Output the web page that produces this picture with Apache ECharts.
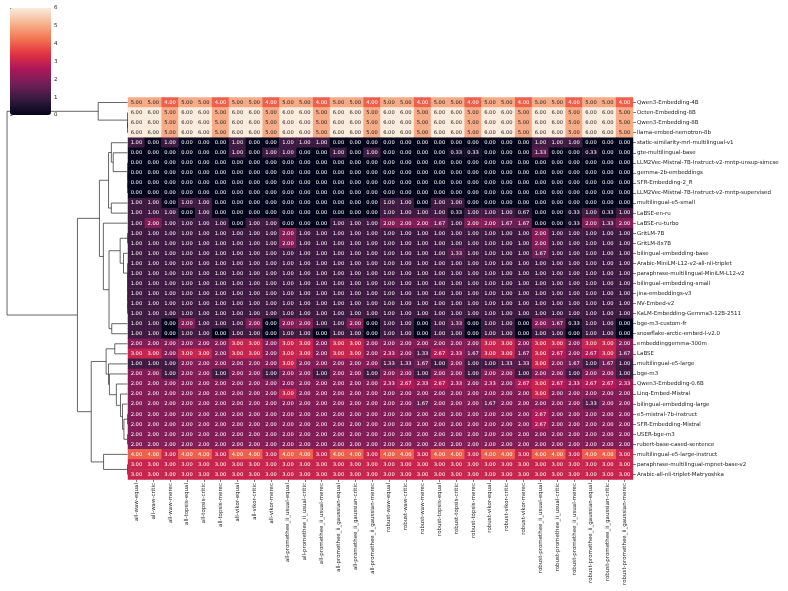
<!DOCTYPE html>
<html>
<head>
<meta charset="utf-8">
<script src="https://cdn.jsdelivr.net/npm/echarts@6/dist/echarts.min.js"></script>
<style>
html, body { margin: 0; padding: 0; background: #fff; }
#chart { width: 788px; height: 591px; }
</style>
</head>
<body>
<div id="chart"></div>
<script>
const methods = [
  'all-waw-equal', 'all-waw-critic', 'all-waw-merec',
  'all-topsis-equal', 'all-topsis-critic', 'all-topsis-merec',
  'all-vikor-equal', 'all-vikor-critic', 'all-vikor-merec',
  'all-promethee_ii_usual-equal', 'all-promethee_ii_usual-critic', 'all-promethee_ii_usual-merec',
  'all-promethee_ii_gaussian-equal', 'all-promethee_ii_gaussian-critic', 'all-promethee_ii_gaussian-merec',
  'robust-waw-equal', 'robust-waw-critic', 'robust-waw-merec',
  'robust-topsis-equal', 'robust-topsis-critic', 'robust-topsis-merec',
  'robust-vikor-equal', 'robust-vikor-critic', 'robust-vikor-merec',
  'robust-promethee_ii_usual-equal', 'robust-promethee_ii_usual-critic', 'robust-promethee_ii_usual-merec',
  'robust-promethee_ii_gaussian-equal', 'robust-promethee_ii_gaussian-critic', 'robust-promethee_ii_gaussian-merec'
]

// rows in the clustered (displayed) order
const models = [
  'Qwen3-Embedding-4B', 'Octen-Embedding-8B', 'Qwen3-Embedding-8B', 'llama-embed-nemotron-8b',
  'static-similarity-mrl-multilingual-v1', 'gte-multilingual-base',
  'LLM2Vec-Mistral-7B-Instruct-v2-mntp-unsup-simcse', 'gemma-2b-embeddings', 'SFR-Embedding-2_R',
  'LLM2Vec-Mistral-7B-Instruct-v2-mntp-supervised', 'multilingual-e5-small', 'LaBSE-en-ru', 'LaBSE-ru-turbo',
  'GritLM-7B', 'GritLM-8x7B', 'bilingual-embedding-base', 'Arabic-MiniLM-L12-v2-all-nli-triplet',
  'paraphrase-multilingual-MiniLM-L12-v2', 'bilingual-embedding-small', 'jina-embeddings-v3', 'NV-Embed-v2',
  'KaLM-Embedding-Gemma3-12B-2511', 'bge-m3-custom-fr', 'snowflake-arctic-embed-l-v2.0', 'embeddinggemma-300m',
  'LaBSE', 'multilingual-e5-large', 'bge-m3', 'Qwen3-Embedding-0.6B', 'Linq-Embed-Mistral',
  'bilingual-embedding-large', 'e5-mistral-7b-instruct', 'SFR-Embedding-Mistral', 'USER-bge-m3',
  'rubert-base-cased-sentence', 'multilingual-e5-large-instruct', 'paraphrase-multilingual-mpnet-base-v2',
  'Arabic-all-nli-triplet-Matryoshka'
]

const scores = [
  [5,5,4,5,5,4,5,5,4,5,5,4,5,5,4,5,5,4,5,5,4,5,5,4,5,5,4,5,5,4],
  [6,6,5,6,6,5,6,6,5,6,6,5,6,6,5,6,6,5,6,6,5,6,6,5,6,6,5,6,6,5],
  [6,6,5,6,6,5,6,6,5,6,6,5,6,6,5,6,6,5,6,6,5,6,6,5,6,6,5,6,6,5],
  [6,6,5,6,6,5,6,6,5,6,6,5,6,6,5,6,6,5,6,6,5,6,6,5,6,6,5,6,6,5],
  [1,0,1,0,0,0,1,0,0,1,1,1,0,0,0,0,0,0,0,0,0,0,0,0,1,1,1,0,0,0],
  [0,0,0,0,0,0,1,0,1,1,0,0,1,0,1,0,0,0,0,0.33,0.33,0,0,0,1.33,0,0,0.33,0,0],
  [0,0,0,0,0,0,0,0,0,0,0,0,0,0,0,0,0,0,0,0,0,0,0,0,0,0,0,0,0,0],
  [0,0,0,0,0,0,0,0,0,0,0,0,0,0,0,0,0,0,0,0,0,0,0,0,0,0,0,0,0,0],
  [0,0,0,0,0,0,0,0,0,0,0,0,0,0,0,0,0,0,0,0,0,0,0,0,0,0,0,0,0,0],
  [0,0,0,0,0,0,0,0,0,0,0,0,0,0,0,0,0,0,0,0,0,0,0,0,0,0,0,0,0,0],
  [1,1,0,1,1,0,0,0,0,0,0,0,0,0,0,1,1,0,1,1,0,0,0,0,0,0,0,0,0,0],
  [1,1,1,0,1,0,0,0,0,0,0,0,0,0,0,1,1,1,1,0.33,1,1,1,0.67,0,0,0.33,1,0.33,1],
  [1,2,1,1,1,1,0,1,1,0,0,0,1,1,1,2,2,2,1.67,1,2,2,1.67,1.67,0,0,0.33,2,1.33,2],
  [1,1,1,1,1,1,1,1,1,2,1,1,1,1,1,1,1,1,1,1,1,1,1,1,2,1,1,1,1,1],
  [1,1,1,1,1,1,1,1,1,2,1,1,1,1,1,1,1,1,1,1,1,1,1,1,2,1,1,1,1,1],
  [1,1,1,1,1,1,1,1,1,1,1,1,1,1,1,1,1,1,1,1.33,1,1,1,1,1.67,1,1,1,1,1],
  [1,1,1,1,1,1,1,1,1,1,1,1,1,1,1,1,1,1,1,1,1,1,1,1,1,1,1,1,1,1],
  [1,1,1,1,1,1,1,1,1,1,1,1,1,1,1,1,1,1,1,1,1,1,1,1,1,1,1,1,1,1],
  [1,1,1,1,1,1,1,1,1,1,1,1,1,1,1,1,1,1,1,1,1,1,1,1,1,1,1,1,1,1],
  [1,1,1,1,1,1,1,1,1,1,1,1,1,1,1,1,1,1,1,1,1,1,1,1,1,1,1,1,1,1],
  [1,1,1,1,1,1,1,1,1,1,1,1,1,1,1,1,1,1,1,1,1,1,1,1,1,1,1,1,1,1],
  [1,1,1,1,1,1,1,1,1,1,1,1,1,1,1,1,1,1,1,1,1,1,1,1,1,1,1,1,1,1],
  [1,1,0,2,1,1,1,2,0,2,2,1,1,2,0,1,1,0,1,1.33,0,1,1,0,2,1.67,0.33,1,1,0],
  [1,1,0,1,1,0,1,1,0,1,1,0,1,1,0,1,1,0,1,1,0,1,1,0,1,1,0,1,1,0],
  [2,2,2,2,2,2,3,3,2,3,3,2,3,3,2,2,2,2,2,2,2,3,3,2,3,3,2,3,3,2],
  [3,3,2,3,3,2,3,3,2,3,3,2,3,3,2,2.33,2,1.33,2.67,2.33,1.67,3,3,1.67,3,2.67,2,2.67,3,1.67],
  [1,1,1,2,2,2,2,2,2,3,2,2,2,2,2,1.33,1.33,1.67,1,2,1,1,1.33,1.33,3,2,1.67,1,1.67,1],
  [2,2,1,2,2,1,2,2,1,2,2,1,2,2,1,2,2,1,2,2,1,2,2,1,2,2,1,2,2,1],
  [2,2,2,2,2,2,2,2,2,2,2,2,2,2,2,2.33,2.67,2.33,2.67,2.33,2,2.33,2,2.67,3,2.67,2.33,2.67,2.67,2.33],
  [2,2,2,2,2,2,2,2,2,3,2,2,2,2,2,2,2,2,2,2,2,2,2,2,3,2,2,2,2,2],
  [2,2,2,2,2,2,2,2,2,2,2,2,2,2,2,2,2,1.67,2,2,2,1.67,2,2,2,2,2,1.33,2,2],
  [2,2,2,2,2,2,2,2,2,2,2,2,2,2,2,2,2,2,2,2,2,2,2,2,2.67,2,2,2,2,2],
  [2,2,2,2,2,2,2,2,2,2,2,2,2,2,2,2,2,2,2,2,2,2,2,2,2.67,2,2,2,2,2],
  [2,2,2,2,2,2,2,2,2,2,2,2,2,2,2,2,2,2,2,2,2,2,2,2,2,2,2,2,2,2],
  [2,2,2,2,2,2,2,2,2,2,2,2,2,2,2,2,2,2,2,2,2,2,2,2,2,2,2,2,2,2],
  [4,4,3,4,4,3,4,4,3,4,4,3,4,4,3,4,4,3,4,4,3,4,4,3,4,4,3,4,4,3],
  [3,3,3,3,3,3,3,3,3,3,3,3,3,3,3,3,3,3,3,3,3,3,3,3,3,3,3,3,3,3],
  [3,3,3,3,3,3,3,3,3,3,3,3,3,3,3,3,3,3,3,3,3,3,3,3,3,3,3,3,3,3]
]

const colorbarTicks = [0, 1, 2, 3, 4, 5, 6]
// seaborn "rocket"
const rocket = ['#03051a', '#35193e', '#701f57', '#ad1759', '#e13342', '#f37651', '#f6b48f', '#faebdd']

// average linkage (euclidean) on the rows, merging neighbours in the displayed order
function buildLinks(rows) {
  const dist = (a, b) => Math.sqrt(a.reduce((s, v, k) => s + (v - b[k]) ** 2, 0))
  const D = rows.map(a => rows.map(b => dist(a, b)))
  let clusters = rows.map((_, i) => ({ leaves: [i], pos: i + 0.5, h: 0 }))
  const links = []
  while (clusters.length > 1) {
    let best = -1, bestD = Infinity
    for (let k = 0; k < clusters.length - 1; k++) {
      const A = clusters[k].leaves, B = clusters[k + 1].leaves
      let s = 0
      A.forEach(i => B.forEach(j => { s += D[i][j] }))
      const d = s / (A.length * B.length)
      if (d <= bestD + 1e-9) { bestD = d; best = k }
    }
    const a = clusters[best], b = clusters[best + 1]
    links.push([a.h, a.pos, bestD, b.pos, b.h])
    clusters.splice(best, 2, { leaves: a.leaves.concat(b.leaves), pos: (a.pos + b.pos) / 2, h: bestD })
  }
  return links
}
const links = buildLinks(scores)
const maxH = Math.max(...links.map(l => l[2]))

const cells = []
scores.forEach((row, i) => {
  row.forEach((v, j) => {
    cells.push({ value: [j, i, v], label: { color: v > 4.5 ? '#262626' : '#ffffff' } })
  })
})

const font = 'DejaVu Sans'
const chart = echarts.init(document.getElementById('chart'))
chart.setOption({
  animation: false,
  textStyle: { fontFamily: font },
  grid: [
    { left: 128, top: 97.5, width: 505, height: 382 },
    { left: 1, top: 97.5, width: 126.5, height: 382 },
    { left: 10, top: 8, width: 41, height: 107 }
  ],
  xAxis: [{
    gridIndex: 0,
    type: 'category',
    data: methods,
    axisLine: { show: false },
    axisTick: { show: true, alignWithLabel: true, length: 2.5, lineStyle: { color: '#222', width: 0.6 } },
    axisLabel: { rotate: 90, interval: 0, fontSize: 5.5, color: '#222', margin: 3.5, fontFamily: font },
    splitLine: { show: false }
  }, {
    gridIndex: 1, type: 'value', min: 0, max: maxH * 1.05, inverse: true, show: false
  }, {
    gridIndex: 2, type: 'value', min: 0, max: 1, show: false
  }],
  yAxis: [{
    gridIndex: 0,
    type: 'category',
    data: models,
    inverse: true,
    position: 'right',
    axisLine: { show: false },
    axisTick: { show: true, alignWithLabel: true, length: 3, lineStyle: { color: '#222', width: 0.6 } },
    axisLabel: { interval: 0, fontSize: 5.5, color: '#222', margin: 4, fontFamily: font },
    splitLine: { show: false }
  }, {
    gridIndex: 1, type: 'value', min: 0, max: models.length, inverse: true, show: false
  }, {
    gridIndex: 2,
    type: 'value',
    min: colorbarTicks[0],
    max: colorbarTicks[colorbarTicks.length - 1],
    interval: 1,
    position: 'right',
    axisLine: { show: false },
    axisTick: { show: true, length: 2.5, lineStyle: { color: '#222', width: 0.6 } },
    axisLabel: { fontSize: 5.5, color: '#222', margin: 3, fontFamily: font },
    splitLine: { show: false }
  }],
  visualMap: {
    type: 'continuous',
    seriesIndex: 0,
    min: 0,
    max: 6,
    left: 10,
    top: 8,
    itemWidth: 41,
    itemHeight: 107,
    padding: 0,
    calculable: false,
    hoverLink: false,
    text: null,
    inRange: { color: rocket }
  },
  series: [{
    type: 'heatmap',
    xAxisIndex: 0,
    yAxisIndex: 0,
    data: cells,
    label: {
      show: true,
      fontSize: 5.2,
      fontFamily: font,
      formatter: p => p.value[2].toFixed(2)
    },
    emphasis: { disabled: true }
  }, {
    type: 'custom',
    xAxisIndex: 1,
    yAxisIndex: 1,
    data: links,
    silent: true,
    renderItem: (params, api) => {
      const p1 = api.coord([api.value(0), api.value(1)])
      const p2 = api.coord([api.value(2), api.value(1)])
      const p3 = api.coord([api.value(2), api.value(3)])
      const p4 = api.coord([api.value(4), api.value(3)])
      return {
        type: 'polyline',
        shape: { points: [p1, p2, p3, p4] },
        style: { stroke: '#333', lineWidth: 0.75, fill: null }
      }
    }
  }]
})
</script>
</body>
</html>
